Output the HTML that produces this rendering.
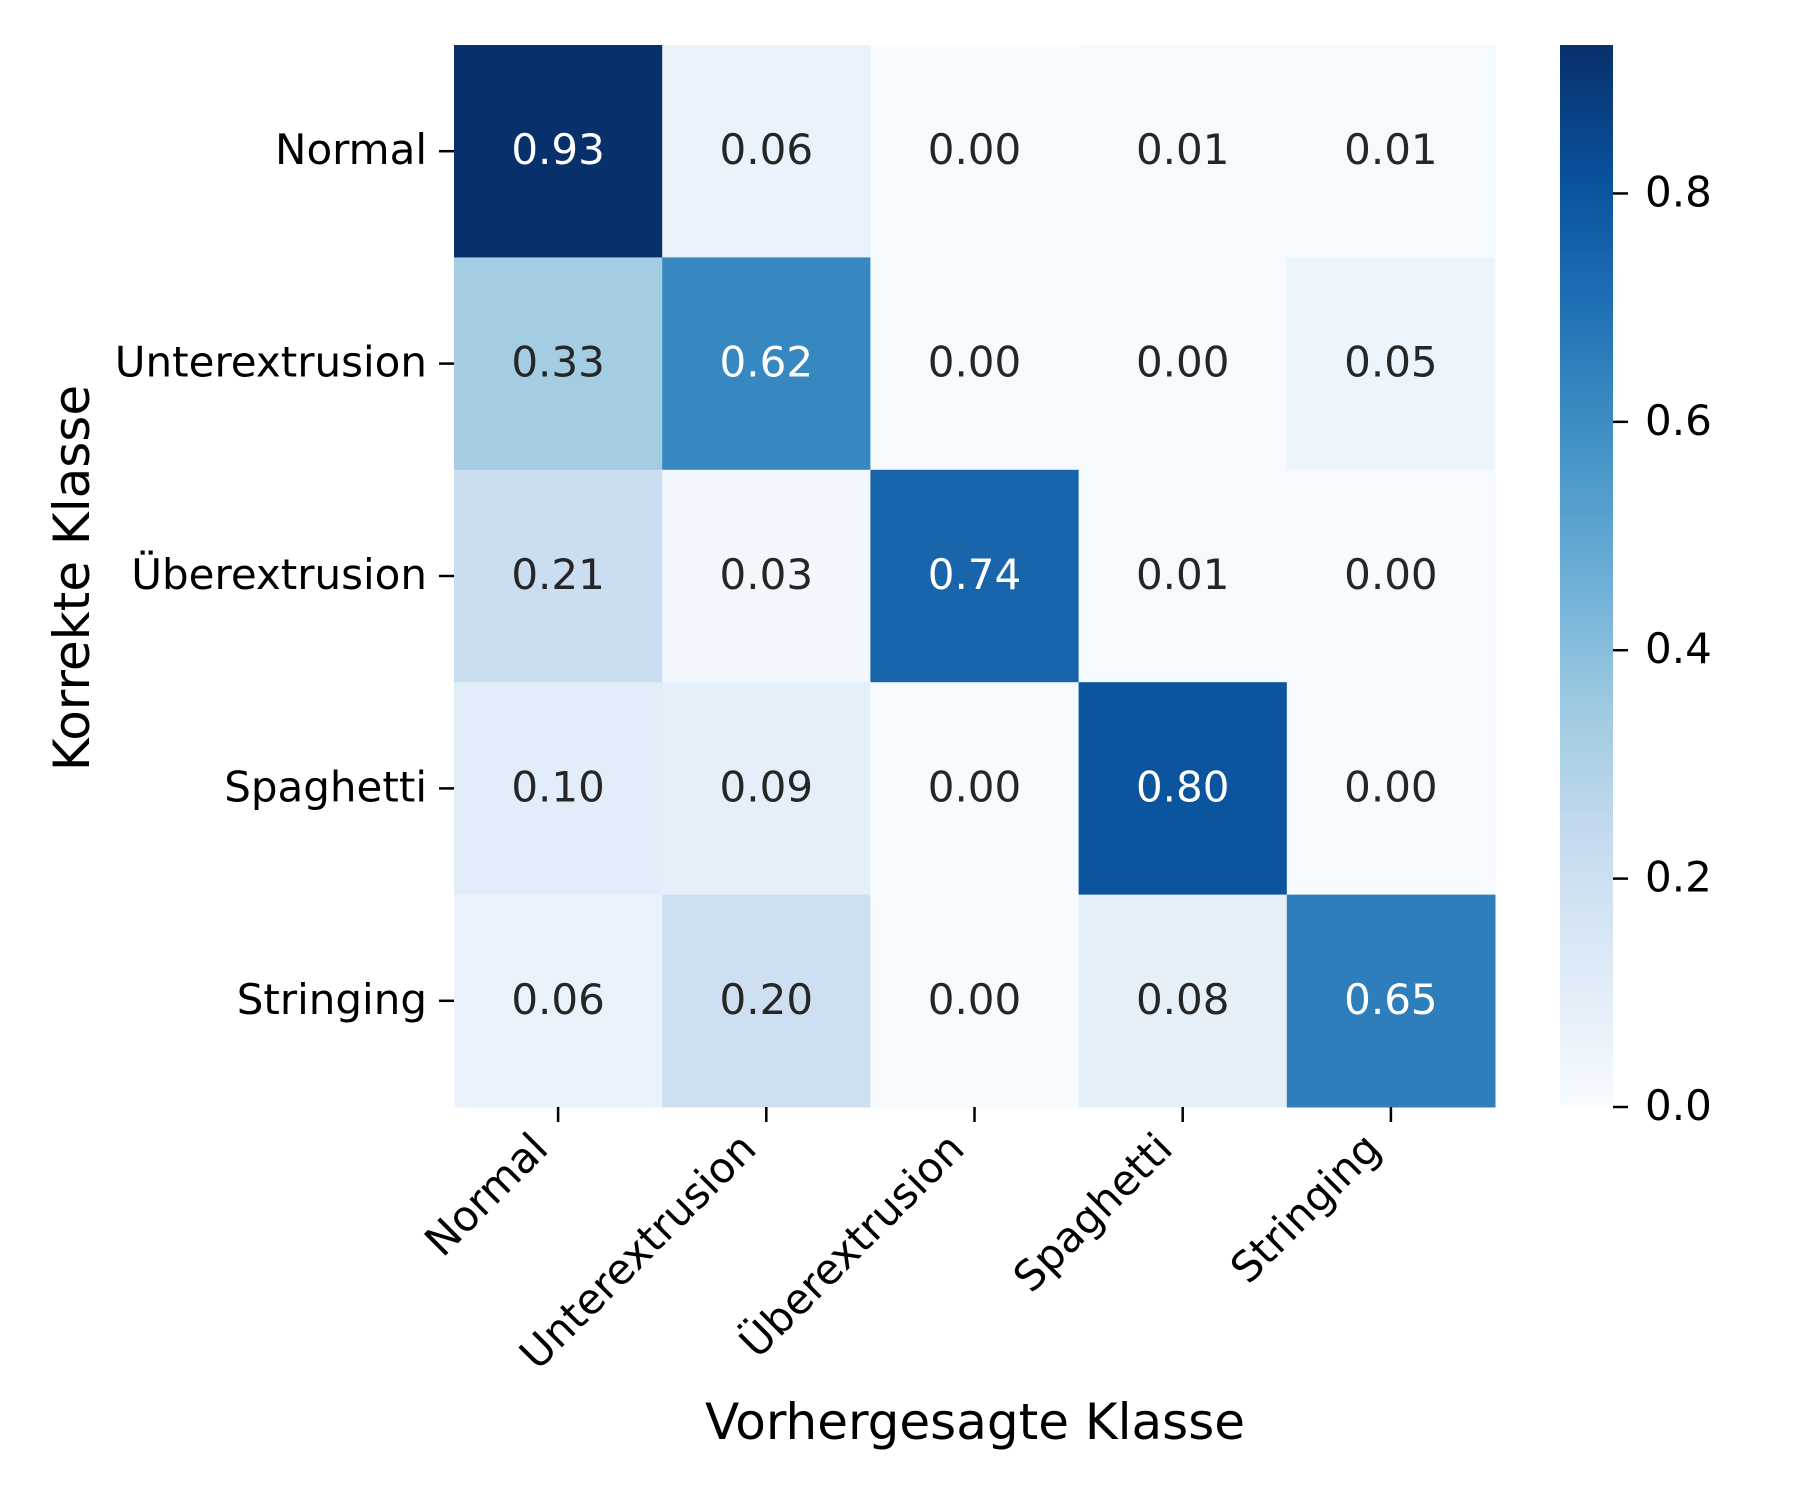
<!DOCTYPE html>
<html><head><meta charset="utf-8"><style>
html,body{margin:0;padding:0;background:#fff;}
svg{display:block;font-family:"DejaVu Sans","Liberation Sans",sans-serif;}
</style></head><body>
<svg id="chart" width="1800" height="1500" viewBox="0 0 1800 1500" xmlns="http://www.w3.org/2000/svg">
<defs>
<linearGradient id="cbgrad" x1="0" y1="1" x2="0" y2="0">
<stop offset="0" stop-color="#f7fbff"/><stop offset="0.125" stop-color="#deebf7"/><stop offset="0.25" stop-color="#c6dbef"/><stop offset="0.375" stop-color="#9ecae1"/><stop offset="0.5" stop-color="#6baed6"/><stop offset="0.625" stop-color="#4292c6"/><stop offset="0.75" stop-color="#2171b5"/><stop offset="0.875" stop-color="#08519c"/><stop offset="1" stop-color="#08306b"/>
</linearGradient>
</defs>
<g id="cells"></g>
<g id="axes"></g>
<rect x="1560" y="45" width="53" height="1062" fill="url(#cbgrad)"/>
<g id="cbticks"></g>
<text x="975" y="1439" font-size="50" text-anchor="middle">Vorhergesagte Klasse</text>
<text transform="translate(89,578) rotate(-90)" font-size="50" text-anchor="middle">Korrekte Klasse</text>
</svg>
<script>
const categories = ["Normal","Unterextrusion","Überextrusion","Spaghetti","Stringing"];
const row0 = [0.93,0.06,0.00,0.01,0.01];
const row1 = [0.33,0.62,0.00,0.00,0.05];
const row2 = [0.21,0.03,0.74,0.01,0.00];
const row3 = [0.10,0.09,0.00,0.80,0.00];
const row4 = [0.06,0.20,0.00,0.08,0.65];
const cbTicks = [0.0,0.2,0.4,0.6,0.8];
const rows = [row0,row1,row2,row3,row4];

const NS = "http://www.w3.org/2000/svg";
const L=454,R=1495,T=45,B=1107;
const vmin=0, vmax=Math.max(...rows.flat());
const n=categories.length;
const cw=(R-L)/n, ch=(B-T)/n;
const xPos=i=>L+i*cw, yPos=i=>T+i*ch;
const cbY=v=>B-(v-vmin)/(vmax-vmin)*(B-T);
const stops=["#f7fbff","#deebf7","#c6dbef","#9ecae1","#6baed6","#4292c6","#2171b5","#08519c","#08306b"].map(h=>[1,3,5].map(k=>parseInt(h.substr(k,2),16)));
function color(v){let t=Math.max(0,Math.min(1,(v-vmin)/(vmax-vmin)))*8;let i=Math.min(7,Math.floor(t)),f=t-i;
 const c=stops[i].map((a,k)=>Math.round(a+(stops[i+1][k]-a)*f));return c;}
function lum(c){const l=c.map(x=>{x/=255;return x<=0.03928?x/12.92:Math.pow((x+0.055)/1.055,2.4)});return 0.2126*l[0]+0.7152*l[1]+0.0722*l[2];}
function mk(tag,attrs,parent,txt){const e=document.createElementNS(NS,tag);for(const k in attrs)e.setAttribute(k,attrs[k]);if(txt!==undefined)e.textContent=txt;parent.appendChild(e);return e;}
const cells=document.getElementById('cells');
rows.forEach((row,r)=>row.forEach((v,c)=>{
 const col=color(v);
 const rect=mk('rect',{x:xPos(c),y:yPos(r),width:cw+0.5,height:ch+0.5,fill:`rgb(${col})`},cells);
 
 
 const t=mk('text',{x:xPos(c)+cw/2,y:yPos(r)+ch/2+13,'font-size':42,'text-anchor':'middle',fill:lum(col)>0.408?'#262626':'#ffffff'},cells,v.toFixed(2));
 
 
}));
const axes=document.getElementById('axes');
categories.forEach((name,i)=>{
 const yc=yPos(i)+ch/2;
 const tk=mk('line',{x1:439,x2:454,y1:yc,y2:yc,stroke:'#000','stroke-width':2.5},axes);
 
 
 const yl=mk('text',{x:427,y:yc+13,'font-size':42,'text-anchor':'end'},axes,name);
 
 
 const xc=xPos(i)+cw/2;
 const tx=mk('line',{x1:xc,x2:xc,y1:1107,y2:1122,stroke:'#000','stroke-width':2.5},axes);
 
 
 const xl=mk('text',{transform:`translate(${xc-8},1151) rotate(-45)`,'font-size':42,'text-anchor':'end'},axes,name);
 
 
});
const cbt=document.getElementById('cbticks');
cbTicks.forEach(v=>{
 const y=cbY(v);
 const l=mk('line',{x1:1613,x2:1628,y1:y,y2:y,stroke:'#000','stroke-width':2.5},cbt);
 
 
 const t=mk('text',{x:1645,y:y+13,'font-size':42},cbt,v.toFixed(1));
 
 
});
</script>
</body></html>
